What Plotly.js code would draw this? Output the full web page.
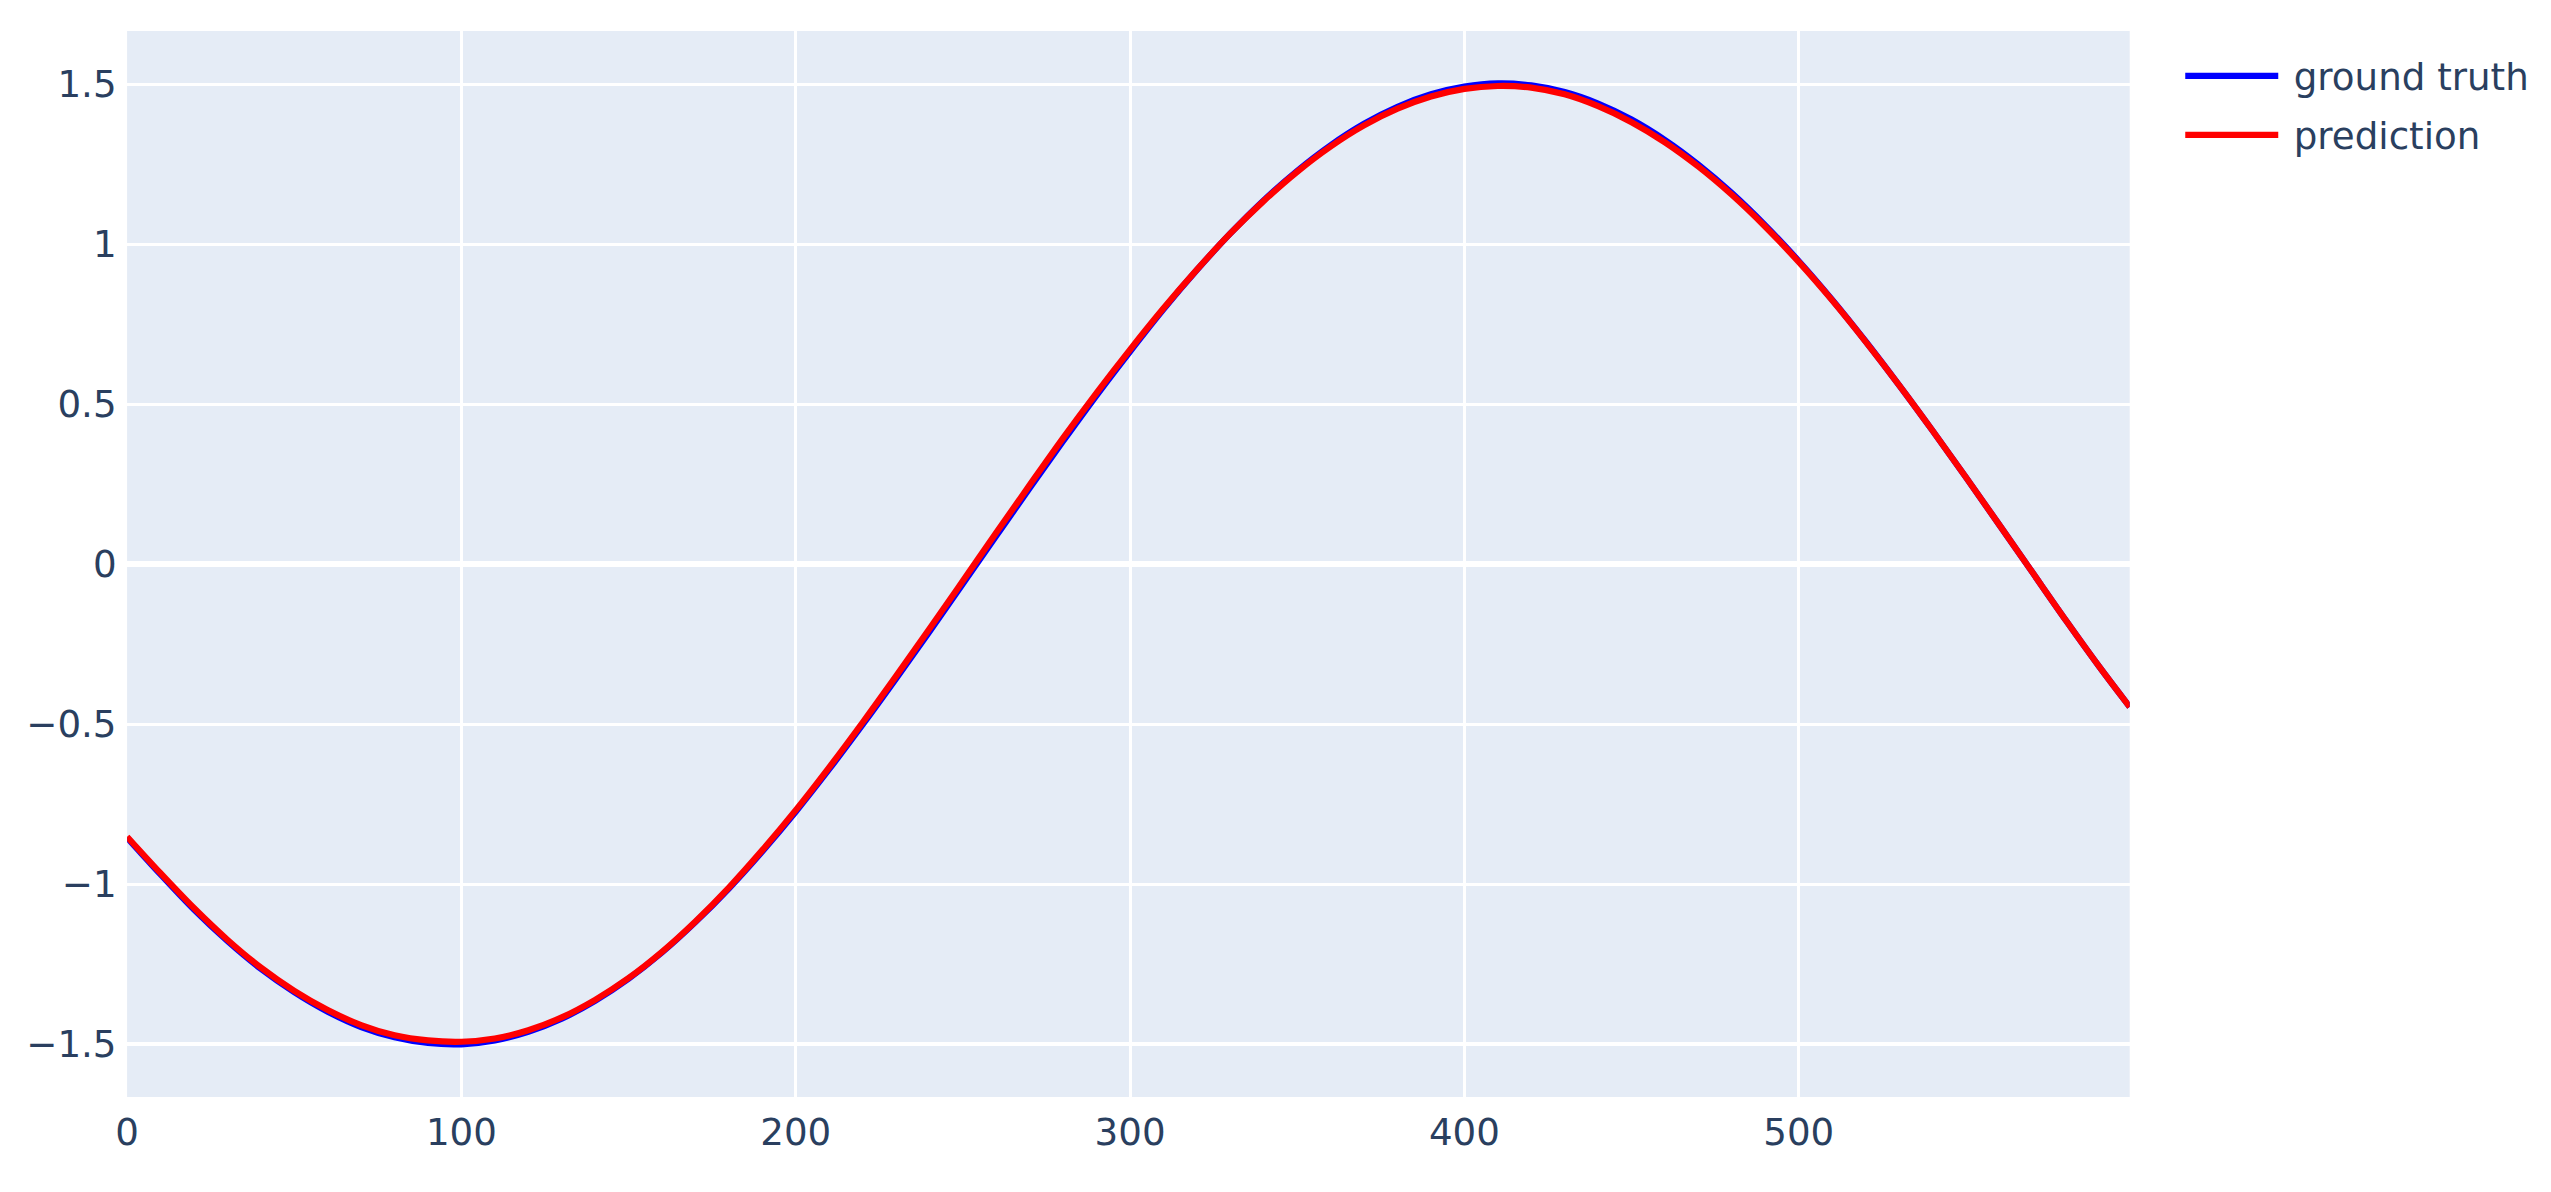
<!DOCTYPE html>
<html>
<head>
<meta charset="utf-8">
<script src="https://cdn.plot.ly/plotly-3.0.1.min.js"></script>
<style>
  html, body { margin: 0; padding: 0; width: 2551px; height: 1192px; overflow: hidden; background: #fff; }
  #chart { width: 850px; height: 385px; transform: scale(3.1); transform-origin: 0 0; }
</style>
</head>
<body>
<div id="chart"></div>
<script>
const xVals = [0,10,20,30,40,50,60,70,80,90,100,110,120,130,140,150,160,170,180,190,
  200,210,220,230,240,250,260,270,280,290,300,310,320,330,340,350,360,370,380,390,
  400,410,420,430,440,450,460,470,480,490,500,510,520,530,540,550,560,570,580,590,599];

const groundTruth = [-0.855,-0.970,-1.080,-1.178,-1.265,-1.338,-1.399,-1.447,-1.479,-1.497,
  -1.501,-1.489,-1.462,-1.421,-1.365,-1.296,-1.214,-1.119,-1.014,-0.898,
  -0.774,-0.641,-0.502,-0.358,-0.211,-0.061,0.089,0.238,0.385,0.528,
  0.665,0.797,0.920,1.034,1.138,1.230,1.310,1.377,1.430,1.469,
  1.493,1.503,1.497,1.476,1.440,1.390,1.326,1.249,1.160,1.059,
  0.948,0.827,0.697,0.560,0.418,0.272,0.123,-0.027,-0.177,-0.322,-0.446];

const prediction = [-0.852,-0.966,-1.075,-1.174,-1.261,-1.334,-1.394,-1.441,-1.473,-1.489,
  -1.493,-1.483,-1.457,-1.417,-1.362,-1.294,-1.212,-1.117,-1.011,-0.894,
  -0.769,-0.635,-0.495,-0.350,-0.202,-0.052,0.099,0.248,0.395,0.536,
  0.671,0.800,0.921,1.034,1.136,1.227,1.306,1.372,1.424,1.462,
  1.486,1.495,1.490,1.469,1.432,1.382,1.319,1.243,1.155,1.055,
  0.945,0.825,0.696,0.560,0.418,0.272,0.123,-0.027,-0.177,-0.322,-0.446];

const seriesNames = ['ground truth', 'prediction'];

const traces = [
  { x: xVals, y: groundTruth, name: seriesNames[0], type: 'scatter', mode: 'lines',
    line: { color: 'blue', width: 2, shape: 'spline' } },
  { x: xVals, y: prediction, name: seriesNames[1], type: 'scatter', mode: 'lines',
    line: { color: 'red', width: 2, shape: 'spline' } }
];

const layout = {
  width: 850,
  height: 385,
  autosize: false,
  margin: { l: 41, r: 163, t: 10, b: 31, pad: 0 },
  paper_bgcolor: '#ffffff',
  plot_bgcolor: '#E5ECF6',
  font: { family: 'Verdana, "DejaVu Sans", sans-serif', size: 12, color: '#2a3f5f' },
  xaxis: {
    range: [0, 599],
    gridcolor: 'white', gridwidth: 1,
    zerolinecolor: 'white', zerolinewidth: 2,
    linecolor: 'white', ticks: '', automargin: false
  },
  yaxis: {
    range: [-1.667, 1.667],
    gridcolor: 'white', gridwidth: 1,
    zerolinecolor: 'white', zerolinewidth: 2,
    linecolor: 'white', ticks: '', automargin: false
  },
  legend: { x: 1.02, y: 1, xanchor: 'left', yanchor: 'top', bgcolor: 'rgba(0,0,0,0)' },
  showlegend: true
};

Plotly.newPlot('chart', traces, layout, { displayModeBar: false, staticPlot: true });
</script>
</body>
</html>
